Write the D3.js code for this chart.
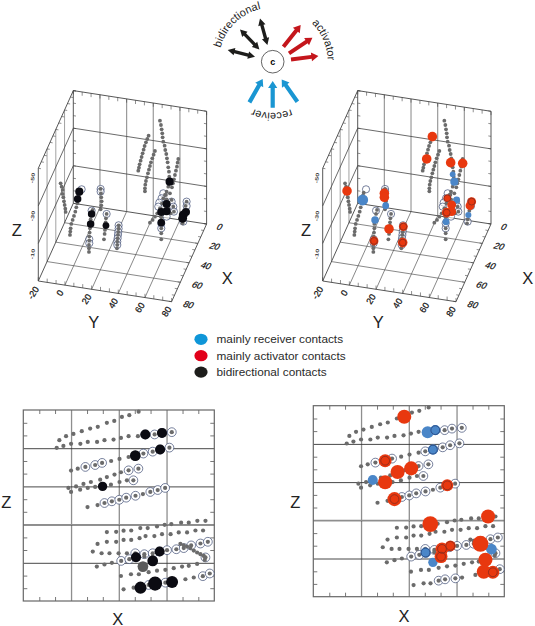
<!DOCTYPE html>
<html><head><meta charset="utf-8">
<script src="https://cdn.jsdelivr.net/npm/d3@7"></script>
<style>html,body{margin:0;background:#fff}svg{display:block;font-family:"Liberation Sans",Arial,sans-serif}</style>
</head><body><svg id="c" width="535" height="626"></svg>
<script>
// ---------- X–Z projection: traces as [X, Z]
const trace01=[[15.1,84.2],[17.9,86.3],[21,87.5],[24.5,88.9],[28,90.3],[31.2,91.2],[35,93.3],[38.1,94.3],[41.3,96.4],[44.4,97.3],[48.3,99.1]];
const trace02=[[14,80.2],[16.8,81.2],[20,82.3],[23.9,82.3],[27,83.3],[30.9,83.3],[34,84.2],[37.8,84.5],[40.9,85.4],[44.1,86.3],[48,86.3],[51.1,87.2],[55,87.2],[58.1,88],[62.2,88.4]];
const trace03=[[20,68.3],[22.8,69.3],[26,70.2],[30.1,71.2],[33,72.3],[36.8,73.3],[40.3,74.4],[44.1,75.4],[46.9,76.1],[50.3,77.2],[54.2,78.2],[57.3,79.3],[61.2,80.3]];
const trace04=[[18.9,59.2],[22.1,60],[25.2,61.3],[28.3,62.3],[32.2,63.5],[35,64.9],[38.2,66.2],[40.9,67.4],[44.1,68.4],[48.2,69.3]];
const trace05=[[20,57.1],[23.8,58.3],[27,59.2],[30.1,59.7],[33.2,60],[36.7,60.9],[40.3,62.3],[43.4,63.2],[46.1,63.2]];
const trace06=[[26.9,49.2],[31.1,50.2],[34,51.3],[37.1,52.2],[40.2,53],[43.1,54.1],[47,55.1],[50.1,56],[53.2,57.1],[56.3,58.1],[59.4,59.2]];
const trace07=[[35,36.1],[38.9,36.2],[42,36.8],[45.2,36.9],[49,38.2],[52.1,38.2],[56,39],[59.2,39.9],[62,40.3],[66.1,41],[69.3,41],[72.9,42],[76.3,42]];
const trace08=[[31.1,29.9],[35,31],[38.9,31],[42,32],[45.2,32],[48.7,32.9],[51.2,34],[54.9,34],[58.1,35],[61.7,35],[65.1,35.9],[68.6,35.9],[72.1,36.9],[75.3,36.9]];
const trace09=[[29.1,25.9],[32.8,25],[36.1,25],[39.9,25],[43.4,25],[46.9,25],[50.7,24.5],[54.2,25],[57.1,25.9],[60.2,26.6],[64.1,27.1],[67.2,27.7],[70.3,29.1],[74.2,30.1],[77.3,31]];
const trace10=[[30.8,18],[34,19.1],[37.1,20],[41,21],[44.4,21.9],[47.2,22.9],[50.7,23.3],[54.2,23.3]];
const trace11=[[40.9,13.1],[45.1,14],[48.4,14],[52.5,15.1],[56,15.9],[59.5,16.3],[63,17.2],[66.5,18],[69.3,18.4],[72.8,19.4],[76,21.5]];
const trace12=[[42,6.1],[46.2,7],[49.1,7],[52.5,8.4],[55.2,9.1],[59.5,9.6],[62.3,10],[67.9,11.4],[71.4,12.3],[75.2,13],[78.1,14.4]];
const trace13=[[65.8,29.9],[67.2,29.2],[68.6,28.5],[70,27.7],[71.4,26.4],[72.8,25.4],[74.2,24.5],[75.6,23.6],[76.3,22.8]];
const tracesXZ=[trace01,trace02,trace03,trace04,trace05,trace06,trace07,trace08,trace09,trace10,trace11,trace12,trace13];
// contact points: [trace index, point index]
const contactsXZ=[[1,11],[1,12],[1,13],[1,14],[2,2],[2,3],[2,4],[2,8],[2,9],[2,10],[2,11],[2,12],[3,8],[3,9],[4,8],
 [5,2],[5,3],[5,4],[5,5],[5,6],[5,8],[5,9],[5,10],[8,5],[8,6],[8,7],[8,8],[8,9],[8,10],[8,11],[8,12],[8,13],[8,14],
 [9,3],[9,4],[9,5],[12,8],[11,3],[11,4],[11,5],[11,9],[11,10]];
// [X, Z, nearness]
const bidirXZ=[[51.1,87.2,42],[58.1,88,42],[46.9,76.1,48],[57.3,79.3,42],[33.2,60,35],[57.1,25.9,42],[47.2,22.9,42],[54.2,21,48],[49.1,7,61],[55.2,9.1,81],[62.3,10,61]];
const shadedXZ=[[50.1,18,48]];
const activatorXZ=[[38.1,94.2,81],[30.1,71.2,70],[35.3,65.3,81],[41,67.2,81],[30.1,59.9,81],[34,51.1,81],[56.1,58.3,61],[49,38,97],[73.2,42,81],[53.9,25,70],[57.4,26.6,48],[53.5,21,70],[70,27.7,100],[72.1,19.3,81],[71.4,13.1,81],[75.2,12.8,70]];
const receiverXZ=[[47.9,86.1,61],[51.1,87.2,42],[50.1,77,42],[24.9,61.1,42],[47,23.1,42],[50.1,18,35],[74.6,24.9,48]];
const ringedActivatorXZ=[1,5,6,9,10,11,15];
const ringedReceiverXZ=[1,2,4];

// ---------- Oblique views: traces as [Y, view height]
const cell01=[[-29.5,62],[-28.75,60],[-28,58],[-28,55.6],[-27.5,53.6],[-27,51.2],[-26.5,49],[-26,46.8],[-25.75,44.8]];
const cell02=[[-15.5,56.4],[-16,54.8],[-16.75,52.4],[-17,50],[-17.75,47.6],[-18.5,45],[-19.5,42.4],[-20.5,40],[-21.5,37.6],[-22,35],[-22.25,33],[-22.5,31]];
const cell03=[[0.5,58.6],[0.75,56],[1,53.6],[1.25,51.2],[1,48.8],[0.5,46.4]];
const cell04=[[-5.5,46],[-6.25,43.6],[-7,40.4],[-7.5,37.6],[-7.5,35],[-7.75,32.4],[-8,30],[-8,27.6],[-8.25,25],[-8.25,23],[-8.25,20.8]];
const cell05=[[5,43.6],[4.5,41],[4.25,38.6],[4.25,36.6],[3.75,34],[3.5,31.6],[3,28.4]];
const cell06=[[14,36.8],[14,34.8],[13.75,32.8],[13.5,31],[13.25,29],[13,27],[13,25],[12.75,23]];
const cell07=[[36.5,90.6],[35.5,88.6],[34.5,86.6],[33.5,84.4],[32.75,82.2],[32,80],[31.25,77.8],[30.5,75.6],[29.75,73.4],[29.25,71.4],[28.75,69.6]];
const cell08=[[41.25,81.4],[40.25,79.2],[39.25,77],[38.25,74.6],[37.5,72.4],[36.75,70.2],[36,68],[35.25,65.6],[34.5,63.4],[34,61.2],[33.75,59],[33.75,57.2]];
const cell09=[[45,99.6],[45.75,97],[46.25,94.4],[46.75,92],[47,89.6],[47.5,87],[48.5,84.6],[49,82],[49.75,79.6],[50.25,77],[50.75,74.6],[51.25,71.6],[51.75,69],[52,66],[52.25,63]];
const cell10=[[58.75,76.6],[58.25,74.4],[57.75,72],[57,69.6],[56.25,67],[55.5,64.4],[54.75,62],[54,59.6]];
const cell11=[[50,57],[48.75,55],[47.5,53],[46.5,50],[45.5,47],[46,44.4],[46,41.6],[46,38.4],[46,35],[46,32],[46,28.4]];
const cell12=[[51.25,60],[52.5,56],[53.75,52],[55,48],[55.5,45]];
const cell13=[[65,51],[64.25,48.4],[63.75,45.6],[63,43],[62.5,40.4],[62,38]];
const cell14=[[45,47],[43,44],[41.25,42],[39.5,40],[37.5,38.4]];
const cell15=[[49.5,55],[50,52.4],[49.5,49.6],[51.25,47],[53,44]];
const cellsView=[cell01,cell02,cell03,cell04,cell05,cell06,cell07,cell08,cell09,cell10,cell11,cell12,cell13,cell14,cell15];
const contactsView=[[-13.75,58.4],[0.5,58.6],[0.5,57],[-6.25,45.6],[-8,28.4],[-8,26],[5,43.6],[14,36.8],[14,34.8],[13.75,32.8],[13.5,31],[13.25,29],[13,27],[13,25],
 [47.5,56],[46.25,53],[44.5,50.4],[43.75,48],[53.75,51],[55,48],[55.5,45],[50,42],[46,35],[46,38],[65,51],[65,48.4],[62.5,39]];
const bidirView=[[-15.5,57,23],[-16.75,52.6,17],[-6.25,43.6,17],[-7,37.6,17],[4.5,36.6,10],[52.25,63,23],[50,49.6,23],[46,44.8,23],[50,45.2,23],[46,38.4,17],[64.5,44.8,23],[62.5,43,30],[62,41,30]];
const activatorView=[[36,90,37],[31.75,76.6,37],[49.75,74.4,37],[58.75,74,37],[-28,57.4,37],[0,56,37],[0,53.6,37],[3.5,34.6,37],[14.25,36,30],[13.75,26.4,37],[-7.75,27.4,30],[65.5,51,30],[64.25,48.6,30],[46.75,44.4,37],[50.5,49,30],[50.5,45,30],[47.25,53,17]];
const receiverView=[[-16.25,52,50],[52.5,63,23],[51.25,67.4,0],[54.25,52,10],[-7,40,17],[1,48.6,10],[46.25,39,10],[63,43,3]];
const ringedActivatorView=[8,9,10,11,13,16];

// ---------- Tick labels and legend
const xTicks=[0,20,40,60,80], yTicks=[-20,0,20,40,60,80], zTicks=[-50,-30,-10];
const legendLabels=["mainly receiver contacts","mainly activator contacts","bidirectional contacts"];
const gridXZ_X=[20,40,60], gridXZ_Z=[20,40,60,80];
const minorXZ_X=[6.7,13.3,26.7,33.3,46.7,53.3,66.7,73.3];
const minorXZ_Z=[6.7,13.3,26.7,33.3,46.7,53.3,66.7,73.3,86.7,93.3];

// ---------- Colours
const GREY="#6b6b6b",RING="#3c4a72",BLACK="#0b0b12",RED="#e8380f",BLUE="#4a86c8";
const svg=d3.select("#c");
const nearR=d3.scaleLinear([0,100],[2.9,8]);

// ---------- Oblique 3-D panel
const xDX=d3.scaleLinear([0,80],[0,-35]),xDY=d3.scaleLinear([0,80],[0,77.7]);
const yDX=d3.scaleLinear([-20,80],[0,133.3]),yDY=d3.scaleLinear([-20,80],[0,20.7]);
const zDY=d3.scaleLinear([0,60],[0,-112.7]);
const viewDY=d3.scaleLinear([0,100],[83.3,-83.3]);
const P=(x,y,z)=>[xDX(x)+yDX(y),xDY(x)+yDY(y)+zDY(z)];
const V=d=>[yDX(d[0]),viewDY(d[1])];

function panel3D(ox,oy,zLabelDx,xLabelDx,fill){
  const g=svg.append("g").attr("transform",`translate(${ox},${oy})`);
  const seg=(a,b,col,w)=>{const p=P(...a),q=P(...b);
    g.append("line").attr("x1",p[0]).attr("y1",p[1]).attr("x2",q[0]).attr("y2",q[1]).attr("stroke",col).attr("stroke-width",w);};
  const thin="#444",soft="#8a8a8a";
  [0,20,40,60].forEach(y=>{seg([0,y,0],[0,y,60],"#9a9a9a",1.2);seg([0,y,0],[80,y,0],"#555",.7);});
  [20,40,60].forEach(x=>{seg([x,-20,0],[x,-20,60],soft,.8);seg([x,-20,0],[x,80,0],"#555",.7);});
  [20,40].forEach(z=>{seg([0,-20,z],[0,80,z],thin,.8);seg([0,-20,z],[80,-20,z],thin,.8);});
  seg([0,-20,60],[0,80,60],thin,.9);seg([0,-20,60],[80,-20,60],thin,.9);
  seg([0,-20,0],[0,80,0],thin,.9);seg([0,-20,0],[80,-20,0],thin,.9);
  seg([0,-20,0],[0,-20,60],thin,.9);seg([0,80,0],[0,80,60],thin,.9);
  seg([80,-20,0],[80,-20,60],thin,.9);seg([80,-20,0],[80,80,0],thin,.9);seg([0,80,0],[80,80,0],thin,.9);
  d3.range(-20,80.1,100/15).forEach(y=>{seg([0,y,60],[0,y,58],thin,.6);seg([80,y,0],[80,y,2],thin,.6);});
  d3.range(0,80.1,20/3).forEach(x=>{seg([x,80,0],[x,78,0],thin,.6);seg([x,-20,60],[x,-18,60],thin,.6);});
  d3.range(0,60.1,20/3).forEach(z=>{seg([0,80,z],[0,78,z],thin,.6);seg([0,-20,z],[0,-18,z],thin,.6);});
  // tick labels
  xTicks.forEach(t=>{const p=P(t,80,0);g.append("text").text(t).attr("text-anchor","middle").attr("dominant-baseline","central").attr("font-size",9).attr("stroke","#222").attr("stroke-width",.2)
    .attr("transform",`translate(${p[0]+(t===0?13:17)},${p[1]+3}) rotate(11) skewX(-18)`);});
  yTicks.forEach(t=>{const p=P(80,t,0);g.append("text").text(t).attr("text-anchor","middle").attr("dominant-baseline","central").attr("font-size",9).attr("stroke","#222").attr("stroke-width",.2)
    .attr("transform",`translate(${p[0]-5},${p[1]+(t===0?8:t<0?12:10)}) rotate(-58)`);});
  zTicks.forEach((t,i)=>{const yy=[-103,-65,-27][i];g.append("text").text(t).attr("text-anchor","middle").attr("font-size",6).attr("font-weight","bold").attr("fill","#444")
    .attr("transform",`translate(-39,${yy+78}) rotate(-82) scale(1.2,.8)`);});
  // rings, dots
  g.selectAll(null).data(contactsView).join("circle").attr("cx",d=>V(d)[0]).attr("cy",d=>V(d)[1]).attr("r",3.6)
    .attr("fill","#fff").attr("fill-opacity",.6).attr("stroke",RING).attr("stroke-width",.7);
  g.selectAll(null).data(cellsView.flat()).join("circle").attr("cx",d=>V(d)[0]).attr("cy",d=>V(d)[1]).attr("r",1.9).attr("fill",GREY);
  fill(g);
  [["Z",zLabelDx,33],["Y",20.5,125],["X",154+xLabelDx,81]].forEach(([s,dx,dy])=>{
    g.append("text").text(s).attr("x",dx).attr("y",dy).attr("text-anchor","middle").attr("font-size",16.5).attr("fill","#222");});
}
const dots3=(g,data,col)=>g.selectAll(null).data(data).join("circle").attr("cx",d=>V(d)[0]).attr("cy",d=>V(d)[1]).attr("r",d=>nearR(d[2])).attr("fill",col);

panel3D(73.3,203.3,-56.6,0,g=>dots3(g,bidirView,BLACK));
panel3D(357.7,203.3,-51.7,16,g=>{
  dots3(g,receiverView,BLUE);dots3(g,activatorView,RED);
  g.selectAll(null).data(ringedActivatorView.map(i=>activatorView[i])).join("circle").attr("cx",d=>V(d)[0]).attr("cy",d=>V(d)[1]).attr("r",3.4).attr("fill","none").attr("stroke","#7a2a20").attr("stroke-width",.7);
});

// ---------- X–Z panel
function panelXZ(ox,oy,draw,labelZx,labelXx,labelXy){
  const S=191;
  const x=d3.scaleLinear([0,80],[0,S]),z=d3.scaleLinear([0,100],[S,0]);
  const g=svg.append("g").attr("transform",`translate(${ox},${oy})`);
  const ax=(gen,tr,col,w)=>{const a=g.append("g").attr("transform",tr).call(gen);a.select(".domain").remove();a.selectAll("text").remove();a.selectAll("line").attr("stroke",col).attr("stroke-width",w);};
  ax(d3.axisTop(x).tickValues(minorXZ_X).tickSize(-4),"","#555",.8);
  ax(d3.axisBottom(x).tickValues(minorXZ_X).tickSize(-4),`translate(0,${S})`,"#555",.8);
  ax(d3.axisLeft(z).tickValues(minorXZ_Z).tickSize(-4),"","#555",.8);
  ax(d3.axisRight(z).tickValues(minorXZ_Z).tickSize(-4),`translate(${S},0)`,"#555",.8);
  ax(d3.axisBottom(x).tickValues(gridXZ_X).tickSize(-S),`translate(0,${S})`,"#8e8e8e",1.3);
  ax(d3.axisLeft(z).tickValues(gridXZ_Z).tickSize(-S),"","#333",.9);
  g.append("line").attr("x1",0).attr("x2",S).attr("y1",z(40)).attr("y2",z(40)).attr("stroke","#8e8e8e").attr("stroke-width",1.2);
  g.append("rect").attr("width",S).attr("height",S).attr("fill","none").attr("stroke","#666").attr("stroke-width",1.2);
  const pts=contactsXZ.map(([t,i])=>tracesXZ[t][i]);
  g.selectAll(null).data(pts).join("circle").attr("cx",d=>x(d[0])).attr("cy",d=>z(d[1])).attr("r",4.4).attr("fill","#fff").attr("stroke",RING).attr("stroke-width",.7);
  g.selectAll(null).data(tracesXZ.flat()).join("circle").attr("cx",d=>x(d[0])).attr("cy",d=>z(d[1])).attr("r",2.1).attr("fill",GREY);
  const dots=(data,col)=>g.selectAll(null).data(data).join("circle").attr("cx",d=>x(d[0])).attr("cy",d=>z(d[1])).attr("r",d=>nearR(d[2])).attr("fill",col);
  const rings=(data,col)=>g.selectAll(null).data(data).join("circle").attr("cx",d=>x(d[0])).attr("cy",d=>z(d[1])).attr("r",4.4).attr("fill","none").attr("stroke",col).attr("stroke-width",.7);
  draw(dots,rings);
  g.append("text").text("Z").attr("x",labelZx).attr("y",S/2+(oy>408?-7.5:-3.5)+10).attr("text-anchor","middle").attr("font-size",16.5).attr("fill","#222");
  g.append("text").text("X").attr("x",labelXx).attr("y",labelXy).attr("text-anchor","middle").attr("font-size",16.5).attr("fill","#222");
}
panelXZ(23.3,410,(dots)=>{dots(bidirXZ,BLACK);dots(shadedXZ,"#5a5a5a");},-17,94.4,214.5);
panelXZ(313.3,405.7,(dots,rings)=>{
  dots(receiverXZ,BLUE);dots(activatorXZ,RED);
  rings(ringedActivatorXZ.map(i=>activatorXZ[i]),"#7a2a20");
  rings(ringedReceiverXZ.map(i=>receiverXZ[i]),"#1f3a70");
},-18,90.7,216);

// ---------- Legend
const legendCols=["#0f96d8","#e2001a","#1d1d1b"];
const lg=svg.append("g");
legendLabels.forEach((t,i)=>{const y=339.3+i*16.4;
  lg.append("ellipse").attr("cx",201).attr("cy",y).attr("rx",6.6).attr("ry",5.6).attr("fill",legendCols[i]);
  lg.append("text").text(t).attr("x",216.5).attr("y",y+4).attr("font-size",11.8).attr("fill","#2a2a2a");});

// ---------- Contact-type key
const cx=272.7,cy=61.7,key=svg.append("g").attr("transform",`translate(${cx},${cy})`);
key.append("circle").attr("r",11.3).attr("fill","#fff").attr("stroke","#222").attr("stroke-width",.7);
key.append("text").text("c").attr("text-anchor","middle").attr("y",3).attr("font-size",9).attr("font-weight","bold");
const bidirectionalKey=[[-45,-11.7,-17.7,-5],[-32.7,-32.3,-13.3,-12.3],[-12.7,-43.3,-5.3,-16.7]];
const activatorKey=[[10.7,-15,28,-36.7],[16.3,-8.3,39.7,-24],[18.3,-2.3,45.7,-5.7]];
const receiverKey=[[-23.3,40.7,-10,17.3],[0,46,0,19.3],[24.7,40,9,17.7]];
function arrow(a,col,both,w){
  const [x0,y0,x1,y1]=a,L=Math.hypot(x1-x0,y1-y0),ang=Math.atan2(y1-y0,x1-x0)*180/Math.PI,h=w*1.1,H=7;
  const pts=both?[[0,0],[H,-h],[H,-w/2],[L-H,-w/2],[L-H,-h],[L,0],[L-H,h],[L-H,w/2],[H,w/2],[H,h]]
               :[[0,-w/2],[L-H,-w/2],[L-H,-h],[L,0],[L-H,h],[L-H,w/2],[0,w/2]];
  key.append("polygon").attr("points",pts.join(" ")).attr("fill",col).attr("transform",`translate(${x0},${y0}) rotate(${ang})`);
}
bidirectionalKey.forEach(a=>arrow(a,"#1d1d1b",true,3.4));
activatorKey.forEach(a=>arrow(a,"#c4161c",false,4));
receiverKey.forEach(a=>arrow(a,"#1a96d2",false,4.2));
const defs=svg.append("defs");
[["bidirectional",-44,54],["activator",67,55],["receiver",181,51]].forEach(([t,mid,r],i)=>{
  const a=(mid-90)*Math.PI/180,p=d3.path();p.arc(0,0,r,a-1.2,a+1.2,false);
  defs.append("path").attr("id","arc"+i).attr("d",p.toString());
  key.append("text").attr("font-size",11).attr("fill","#222").attr("text-anchor","middle")
    .append("textPath").attr("href","#arc"+i).attr("startOffset","50%").text(t);
});
</script></body></html>
